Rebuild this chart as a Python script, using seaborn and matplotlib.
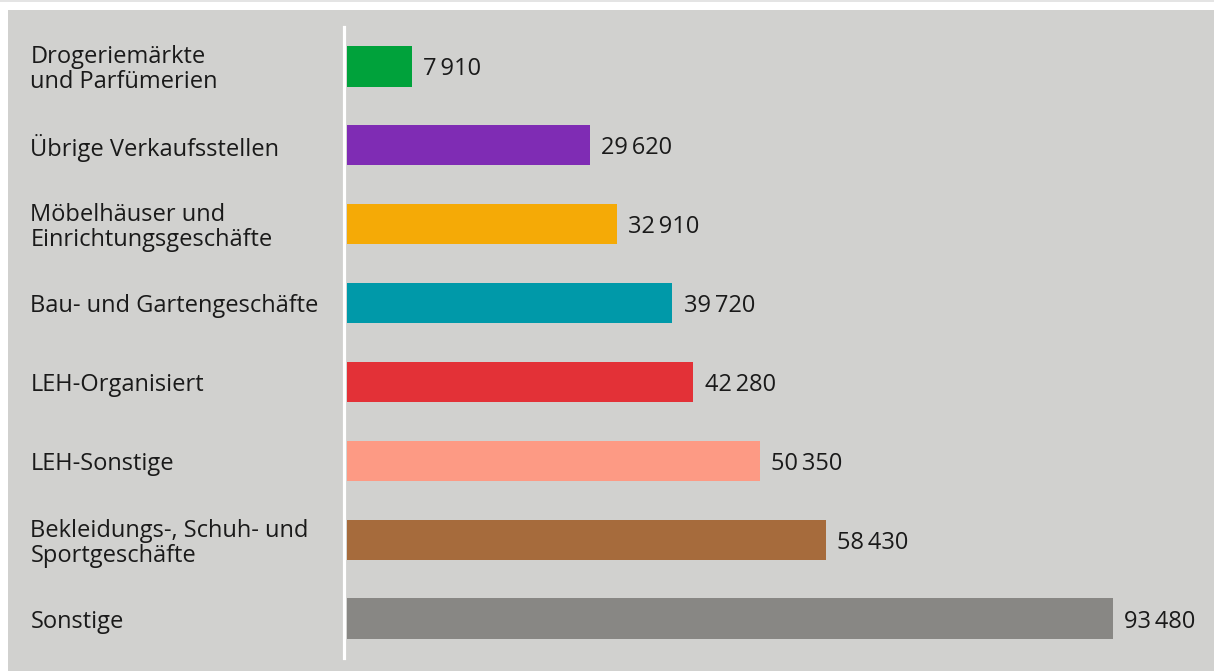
import matplotlib
matplotlib.use('Agg')
import matplotlib.pyplot as plt
import seaborn as sns
import pandas as pd
from matplotlib.patches import Rectangle

categories = [
    'Drogeriemärkte\nund Parfümerien',
    'Übrige Verkaufsstellen',
    'Möbelhäuser und\nEinrichtungsgeschäfte',
    'Bau- und Gartengeschäfte',
    'LEH-Organisiert',
    'LEH-Sonstige',
    'Bekleidungs-, Schuh- und\nSportgeschäfte',
    'Sonstige',
]
values = [7910, 29620, 32910, 39720, 42280, 50350, 58430, 93480]
colors = ['#00a23b', '#7f2cb4', '#f5aa06', '#0099a9', '#e33137',
          '#fd9a84', '#a66b3c', '#888784']

sns.set_theme(style='white')
plt.rcParams['font.family'] = ['Open Sans', 'DejaVu Sans']

df = pd.DataFrame({'Kategorie': categories, 'Wert': values})

W, H = 1214, 671
fig = plt.figure(figsize=(W / 100, H / 100), dpi=100)
fig.patch.set_facecolor('white')
# grey panel behind the chart
fig.patches.append(Rectangle((8 / W, 0), 1 - 8 / W, 1 - 10 / H,
                             transform=fig.transFigure, facecolor='#d1d1cf',
                             edgecolor='none', zorder=-5))
fig.patches.append(Rectangle((0, 1 - 2 / H), 1, 2 / H,
                             transform=fig.transFigure, facecolor='#e4e4e4',
                             edgecolor='none', zorder=-5))

ax = fig.add_axes([347 / W, 13 / H, (1200 - 347) / W, 631 / H])
ax.patch.set_visible(False)

sns.barplot(data=df, y='Kategorie', x='Wert', hue='Kategorie', palette=colors,
            orient='h', width=0.51, legend=False, ax=ax, linewidth=0,
            saturation=1)

ax.set_xlim(0, 104100)
ax.set_ylim(7.5, -0.5)
ax.set_xlabel('')
ax.set_ylabel('')
ax.set_xticks([])

for s in ['top', 'right', 'bottom']:
    ax.spines[s].set_visible(False)
ax.spines['left'].set_color('white')
ax.spines['left'].set_linewidth(2.3)
ax.spines['left'].set_position(('outward', 2))

ax.tick_params(axis='y', length=0, pad=226, labelsize=17, labelcolor='#1a1a1a')
for lbl in ax.get_yticklabels():
    lbl.set_ha('left')
    lbl.set_linespacing(1.05)

for cont, v in zip(ax.containers, values):
    txts = ax.bar_label(cont, labels=[f'{v:,}'.replace(',', '\u2009')],
                        padding=8, fontsize=17, color='#1a1a1a')
    for t in txts:
        t.set_va('center_baseline')

fig.savefig('out.png', dpi=100, facecolor=fig.get_facecolor())
